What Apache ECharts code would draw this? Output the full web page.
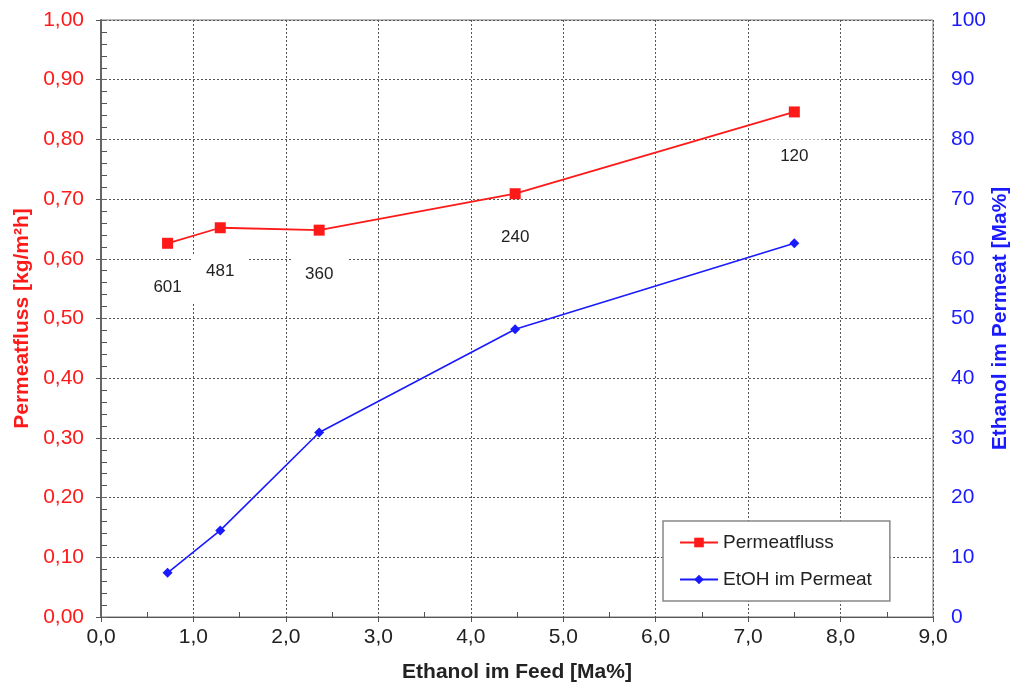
<!DOCTYPE html>
<html><head><meta charset="utf-8">
<script src="https://cdn.jsdelivr.net/npm/echarts@6/dist/echarts.min.js"></script>
<style>html,body{margin:0;padding:0;background:#fff}#c{width:1013px;height:688px}</style>
</head><body><div id="c"></div>
<script>
const feedEthanol = [0.72, 1.29, 2.36, 4.48, 7.50];
const permeatfluss = [0.626, 0.652, 0.648, 0.709, 0.846];
const etohPermeat = [7.4, 14.5, 30.9, 48.2, 62.6];
const pointLabels = ['601', '481', '360', '240', '120'];

const FONT = '"Liberation Sans", Arial, sans-serif';
const fmt2 = v => v.toFixed(2).replace('.', ',');
const fmt1 = v => v.toFixed(1).replace('.', ',');

const chart = echarts.init(document.getElementById('c'), null, {renderer: 'canvas'});
const gridLine = {show: true, lineStyle: {color: '#555', type: [2, 2], width: 1}};
chart.setOption({
  animation: false,
  backgroundColor: '#fff',
  grid: {left: 101, right: 80, top: 20, bottom: 71, containLabel: false, outerBoundsMode: 'none',
         show: true, borderColor: '#777', borderWidth: 1, backgroundColor: 'transparent'},
  legend: {
    orient: 'vertical', left: 663, top: 521,
    padding: [12, 18, 12, 16], itemGap: 18, itemWidth: 38, itemHeight: 12,
    backgroundColor: '#fff', borderColor: '#888', borderWidth: 1.5,
    textStyle: {fontFamily: FONT, fontSize: 19, color: '#222'},
    data: ['Permeatfluss', 'EtOH im Permeat']
  },
  xAxis: [{
    type: 'value', min: 0, max: 9, interval: 1,
    name: 'Ethanol im Feed [Ma%]', nameLocation: 'middle', nameGap: 45,
    nameTextStyle: {fontFamily: FONT, fontSize: 21, fontWeight: 'bold', color: '#222'},
    axisLine: {show: true, onZero: false, lineStyle: {color: '#555', width: 1}},
    axisTick: {show: true, inside: false, length: 5, lineStyle: {color: '#555'}},
    axisLabel: {formatter: fmt1, fontFamily: FONT, fontSize: 21, color: '#222', margin: 10},
    splitLine: gridLine
  }, {
    type: 'value', min: 0, max: 9, interval: 1, position: 'bottom',
    axisLine: {show: false}, axisLabel: {show: false}, splitLine: {show: false},
    axisTick: {show: false, inside: true},
    minorTick: {show: true, splitNumber: 2, length: 5, lineStyle: {color: '#555'}}
  }],
  yAxis: [{
    type: 'value', min: 0, max: 1, interval: 0.1, position: 'left',
    name: 'Permeatfluss [kg/m²h]', nameLocation: 'middle', nameGap: 68, nameMoveOverlap: false,
    nameTextStyle: {fontFamily: FONT, fontSize: 21, fontWeight: 'bold', color: '#ff1a1a'},
    axisLine: {show: true, lineStyle: {color: '#666', width: 2}},
    axisTick: {show: true, inside: false, length: 5, lineStyle: {color: '#555'}},
    axisLabel: {formatter: fmt2, fontFamily: FONT, fontSize: 21, color: '#ff1a1a', margin: 17},
    splitLine: gridLine
  }, {
    type: 'value', min: 0, max: 100, interval: 10, position: 'right',
    name: 'Ethanol im Permeat [Ma%]', nameLocation: 'middle', nameGap: 57, nameMoveOverlap: false,
    nameTextStyle: {fontFamily: FONT, fontSize: 21, fontWeight: 'bold', color: '#1a1aff'},
    axisLine: {show: true, lineStyle: {color: '#666', width: 1}},
    axisTick: {show: true, inside: false, length: 6, lineStyle: {color: '#666'}},
    axisLabel: {fontFamily: FONT, fontSize: 21, color: '#1a1aff', margin: 18},
    splitLine: {show: false}
  }, {
    type: 'value', min: 0, max: 1, interval: 0.1, position: 'left',
    axisLine: {show: false}, axisLabel: {show: false}, splitLine: {show: false},
    axisTick: {show: false, inside: true},
    minorTick: {show: true, splitNumber: 5, length: 6, lineStyle: {color: '#555'}}
  }],
  series: [{
    name: 'Permeatfluss', type: 'line', xAxisIndex: 0, yAxisIndex: 0,
    data: feedEthanol.map((x, i) => [x, permeatfluss[i]]),
    symbol: 'rect', symbolSize: 11,
    itemStyle: {color: '#ff1a1a'}, lineStyle: {color: '#ff1a1a', width: 1.8},
    label: {
      show: true, position: 'bottom', distance: 22,
      formatter: p => pointLabels[p.dataIndex],
      fontFamily: FONT, fontSize: 17, color: '#222',
      backgroundColor: '#fff', padding: [8, 14]
    },
    z: 3
  }, {
    name: 'EtOH im Permeat', type: 'line', xAxisIndex: 0, yAxisIndex: 1,
    data: feedEthanol.map((x, i) => [x, etohPermeat[i]]),
    symbol: 'diamond', symbolSize: 10,
    itemStyle: {color: '#1a1aff'}, lineStyle: {color: '#1a1aff', width: 1.6},
    z: 3
  }]
});
</script></body></html>
